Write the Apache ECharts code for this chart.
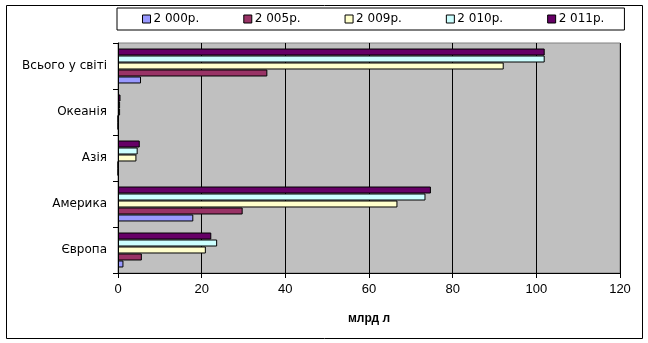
<!DOCTYPE html>
<html><head><meta charset="utf-8">
<script src="https://cdn.jsdelivr.net/npm/echarts@6/dist/echarts.min.js"></script>
<style>html,body{margin:0;padding:0;background:#fff}#c{width:648px;height:343px}</style>
</head><body><div id="c"></div>
<script>
const categories = ['Європа', 'Америка', 'Азія', 'Океанія', 'Всього у світі'];
const seriesNames = ['2 000р.', '2 005р.', '2 009р.', '2 010р.', '2 011р.'];
const v2000 = [1.3, 18.0, 0, 0, 5.5];
const v2005 = [5.7, 29.8, 0, 0, 35.7];
const v2009 = [21.0, 66.8, 4.4, 0.5, 92.2];
const v2010 = [23.7, 73.5, 4.7, 0.5, 102.0];
const v2011 = [22.3, 74.8, 5.2, 0.6, 102.0];
const xTicks = [0, 20, 40, 60, 80, 100, 120];
const colors = ['#9999FF', '#993366', '#FFFFCC', '#CCFFFF', '#660066'];
const values = [v2000, v2005, v2009, v2010, v2011];

const chart = echarts.init(document.getElementById('c'), null, {renderer: 'canvas'});
const font = 'DejaVu Sans, Verdana, sans-serif';
const font2 = 'Liberation Sans, Arial, sans-serif';
const series = values.map((d, i) => ({
  name: seriesNames[i], type: 'bar', data: d,
  barGap: '0%', barCategoryGap: '24%',
  itemStyle: {color: colors[i], borderColor: '#000', borderWidth: 1}
})).reverse();
chart.setOption({
  animation: false,
  textStyle: {fontFamily: font},
  graphic: [{
    type: 'rect', left: 6, top: 5, z: -10,
    shape: {x: 0, y: 0, width: 636, height: 333},
    style: {fill: '#fff', stroke: '#000', lineWidth: 1}
  }],
  legend: {
    left: 117, top: 8,
    padding: [5, 20, 5, 25],
    borderColor: '#000', borderWidth: 1,
    backgroundColor: '#fff',
    itemWidth: 8, itemHeight: 8, itemGap: 44,
    icon: 'rect',
    textStyle: {fontFamily: font, fontSize: 12, color: '#000', padding: [0, 0, 0, -2]},
    data: seriesNames.map(n => ({name: n, itemStyle: {borderColor: '#000', borderWidth: 1}}))
  },
  grid: {
    left: 118, right: 28, top: 43, bottom: 70,
    show: true, backgroundColor: '#C0C0C0', borderColor: '#808080', borderWidth: 1
  },
  xAxis: {
    type: 'value', min: 0, max: 120, interval: 20,
    name: 'млрд л', nameLocation: 'middle', nameGap: 40,
    nameTextStyle: {fontFamily: font2, fontSize: 12, fontWeight: 'bold', color: '#000'},
    axisLine: {show: true, lineStyle: {color: '#000', width: 1}},
    axisTick: {show: true, length: 5, lineStyle: {color: '#000'}},
    axisLabel: {fontFamily: font2, fontSize: 13, color: '#000', margin: 10,
      formatter: v => xTicks.includes(v) ? String(v) : ''},
    splitLine: {show: true, lineStyle: {color: '#000', width: 1}}
  },
  yAxis: {
    type: 'category', data: categories,
    axisLine: {show: true, lineStyle: {color: '#000', width: 1}},
    axisTick: {show: true, length: 5, lineStyle: {color: '#000'}},
    axisLabel: {fontFamily: font, fontSize: 12, color: '#000', margin: 11},
    splitLine: {show: false}
  },
  series: series
});
</script></body></html>
